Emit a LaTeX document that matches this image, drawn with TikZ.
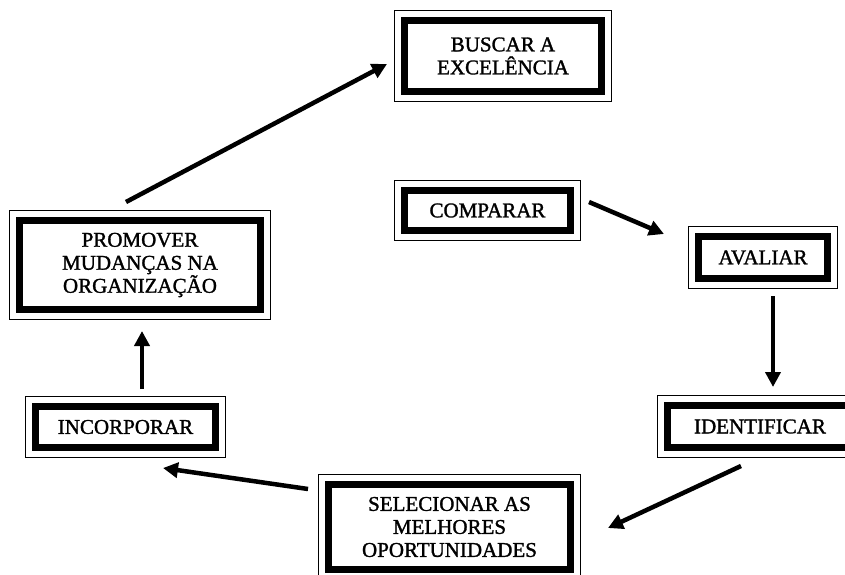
\documentclass[tikz,border=0pt]{standalone}
\usepackage{fontspec}
\setmainfont{Liberation Serif}[FakeBold=1.4]
\usetikzlibrary{arrows.meta}
\begin{document}
\begin{tikzpicture}[x=1pt,y=1pt,
  framebox/.style={draw=black, line width=7pt, fill=white, inner sep=0pt,
    align=center, font=\fontsize{21}{23}\selectfont},
  arr/.style={line width=4.5pt, -{Triangle[length=15pt,width=15pt]}}]
  \useasboundingbox (0,0) rectangle (845,574);
  % process steps (sizes measured to the centre of the thick frame)
  \node[framebox, minimum width=197pt, minimum height=71pt] (bus) at (503,518) {BUSCAR A\\EXCELÊNCIA};
  \node[framebox, minimum width=241pt, minimum height=89pt] (pro) at (140,309) {PROMOVER\\MUDANÇAS NA\\ORGANIZAÇÃO};
  \node[framebox, minimum width=180pt, minimum height=41pt] (inc) at (125.5,147) {INCORPORAR};
  \node[framebox, minimum width=242pt, minimum height=85pt] (sel) at (449.5,47) {SELECIONAR AS\\MELHORES\\OPORTUNIDADES};
  \node[framebox, minimum width=185pt, minimum height=42pt] (idf) at (760,147.5) {IDENTIFICAR};
  \node[framebox, minimum width=129pt, minimum height=42pt] (ava) at (763,316.5) {AVALIAR};
  \node[framebox, minimum width=166pt, minimum height=40pt] (cmp) at (487.5,363.5) {COMPARAR};
  % thin outer rule around each thick frame
  \foreach \n in {bus,pro,inc,sel,idf,ava,cmp}
    \draw[line width=1.5pt] ([shift={(-6.5,6.5)}]\n.north west) rectangle ([shift={(6.5,-6.5)}]\n.south east);
  % flow of the cycle
  \draw[arr] ([shift={(15,8.5)}]cmp.east) -- ([shift={(-31,-1)}]ava.north west);
  \draw[arr] ([shift={(10,-14)}]ava.south) -- ([shift={(13,15)}]idf.north);
  \draw[arr] ([shift={(-19,-15)}]idf.south) -- ([shift={(34,-1)}]sel.east);
  \draw[arr] ([shift={(-17,38)}]sel.west) -- ([shift={(-56,-17)}]inc.south east);
  \draw[arr] ([shift={(16.5,14)}]inc.north) -- ([shift={(2,-18)}]pro.south);
  \draw[arr] ([shift={(-14,15)}]pro.north) -- ([shift={(-14,-8)}]bus.west);
\end{tikzpicture}
\end{document}
